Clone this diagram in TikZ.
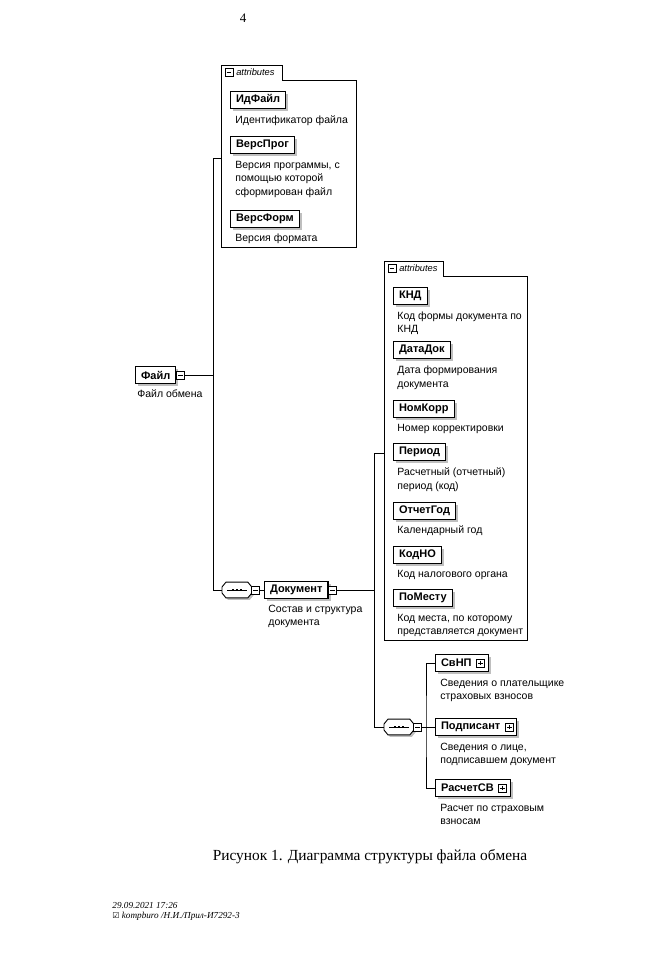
\documentclass[tikz,border=0pt]{standalone}
\usepackage{fontspec}
\setmainfont{Liberation Serif}
\setsansfont{Liberation Sans}
\newfontfamily\symfont{DejaVu Sans}
\usetikzlibrary{positioning,shadows,calc}

\tikzset{
  elem/.style={draw, line width=1.1pt, fill=white, anchor=west, minimum height=17pt,
    inner xsep=5.5pt, inner ysep=1.5pt, font=\sffamily\bfseries\fontsize{11}{12}\selectfont,
    drop shadow={shadow xshift=2.5pt, shadow yshift=-2.5pt, fill=black!50}},
  desc/.style={anchor=north west, align=left, inner sep=0pt,
    font=\sffamily\fontsize{10.5}{13.5}\selectfont},
  btn/.style={draw, line width=0.8pt, fill=white, minimum size=8pt, inner sep=0pt},
  minusbtn/.style={btn, path picture={
    \draw ([xshift=1.6pt]path picture bounding box.west) -- ([xshift=-1.6pt]path picture bounding box.east);}},
  plusbtn/.style={btn, path picture={
    \draw ([xshift=1.6pt]path picture bounding box.west) -- ([xshift=-1.6pt]path picture bounding box.east);
    \draw ([yshift=-1.6pt]path picture bounding box.north) -- ([yshift=1.6pt]path picture bounding box.south);}},
  seqsym/.style={anchor=west, minimum width=29pt, minimum height=15pt, inner sep=0pt,
    append after command={\pgfextra{
      \draw[line width=0.9pt, fill=white, drop shadow={shadow xshift=2pt, shadow yshift=-2pt, fill=black!50}]
        ([yshift=3pt]\tikzlastnode.west) -- ([xshift=4pt]\tikzlastnode.north west)
        -- ([xshift=-4pt]\tikzlastnode.north east) -- ([yshift=3pt]\tikzlastnode.east)
        -- ([yshift=-3pt]\tikzlastnode.east) -- ([xshift=-4pt]\tikzlastnode.south east)
        -- ([xshift=4pt]\tikzlastnode.south west) -- ([yshift=-3pt]\tikzlastnode.west) -- cycle;
      \draw ([xshift=5pt]\tikzlastnode.west) -- ([xshift=-5pt]\tikzlastnode.east);
      \foreach \d in {-4,0,4}
        \fill ([xshift=\d pt]\tikzlastnode.center) +(-1.3pt,-1.3pt) rectangle +(1.3pt,1.3pt);}}},
  tablbl/.style={inner sep=0pt, font=\sffamily\itshape\fontsize{9.3}{10}\selectfont},
}

\begin{document}
\begin{tikzpicture}[x=1pt, y=-1pt, line width=0.8pt]
  \useasboundingbox (0,0) rectangle (668,960);

  % page number
  \node (pagenum) at (243,18) {\fontsize{13}{14}\selectfont 4};

  % attributes of Файл
  \draw (221,247) -- (221,65) -- (282,65) -- (282,80) -- (356,80) -- (356,247) -- cycle;
  \node (attr1btn) [minusbtn] at (229,72.5) {};
  \node (attr1lbl) [tablbl, right=2.5pt of attr1btn] {attributes};
  \node (idf) [elem] at (230,100) {ИдФайл};
  \node (idfd) [desc, below right=6.5pt and 5pt of idf.south west] {Идентификатор файла};
  \node (versprog) [elem] at (230,145) {ВерсПрог};
  \node (versprogd) [desc, below right=6.5pt and 5pt of versprog.south west] {Версия программы, с\\помощью которой\\сформирован файл};
  \node (versform) [elem] at (230,219) {ВерсФорм};
  \node (versformd) [desc, below right=5.5pt and 5pt of versform.south west] {Версия формата};
  \coordinate (attr1w) at (221,158);

  % root
  \node (file) [elem] at (135,375) {Файл};
  \node (filebtn) [minusbtn, anchor=west] at ([xshift=-0.5pt]file.east) {};
  \node (filed) [desc, below right=5.5pt and 2pt of file.south west] {Файл обмена};
  \coordinate (j1top) at (213,158);
  \coordinate (j1bot) at (213,590);

  % Документ
  \node (seq1) [seqsym] at (222,590) {};
  \node (seq1btn) [minusbtn, anchor=west] at ([xshift=-0.5pt]seq1.east) {};
  \node (doc) [elem] at (264,590) {Документ};
  \node (docbtn) [minusbtn, anchor=west] at ([xshift=-0.5pt]doc.east) {};
  \node (docd) [desc, below right=5.5pt and 4pt of doc.south west] {Состав и структура\\документа};
  \coordinate (j2top) at (374,453);
  \coordinate (j2bot) at (374,727);

  % attributes of Документ
  \draw (384,640) -- (384,261) -- (443,261) -- (443,276) -- (527,276) -- (527,640) -- cycle;
  \node (attr2btn) [minusbtn] at (392,268.5) {};
  \node (attr2lbl) [tablbl, right=2.5pt of attr2btn] {attributes};
  \coordinate (attr2w) at (384,453);
  \node (knd) [elem] at (393,296) {КНД};
  \node (kndd) [desc, below right=6pt and 4pt of knd.south west] {Код формы документа по\\КНД};
  \node (datadok) [elem] at (393,350) {ДатаДок};
  \node (datadokd) [desc, below right=6.5pt and 4pt of datadok.south west] {Дата формирования\\документа};
  \node (nomkorr) [elem] at (393,409) {НомКорр};
  \node (nomkorrd) [desc, below right=5.5pt and 4pt of nomkorr.south west] {Номер корректировки};
  \node (period) [elem] at (393,452) {Период};
  \node (periodd) [desc, below right=6.5pt and 4pt of period.south west] {Расчетный (отчетный)\\период (код)};
  \node (otchgod) [elem] at (393,511) {ОтчетГод};
  \node (otchgodd) [desc, below right=5.5pt and 4pt of otchgod.south west] {Календарный год};
  \node (kodno) [elem] at (393,555) {КодНО};
  \node (kodnod) [desc, below right=5.5pt and 4pt of kodno.south west] {Код налогового органа};
  \node (pomestu) [elem] at (393,598) {ПоМесту};
  \node (pomestud) [desc, below right=6.5pt and 4pt of pomestu.south west] {Код места, по которому\\представляется документ};

  % sequence of Документ
  \node (seq2) [seqsym] at (384,727) {};
  \node (seq2btn) [minusbtn, anchor=west] at ([xshift=-0.5pt]seq2.east) {};
  \coordinate (j3) at (426,727);
  \node (svnp) [elem] at (435,663) {СвНП\kern11pt};
  \node (svnpbtn) [plusbtn] at ([xshift=-8pt]svnp.east) {};
  \node (svnpd) [desc, below right=6.5pt and 5pt of svnp.south west] {Сведения о плательщике\\страховых взносов};
  \node (podp) [elem] at (435,727) {Подписант\kern11pt};
  \node (podpbtn) [plusbtn] at ([xshift=-8pt]podp.east) {};
  \node (podpd) [desc, below right=6.5pt and 5pt of podp.south west] {Сведения о лице,\\подписавшем документ};
  \node (rascsv) [elem] at (435,788) {РасчетСВ\kern11pt};
  \node (rascsvbtn) [plusbtn] at ([xshift=-8pt]rascsv.east) {};
  \node (rascsvd) [desc, below right=6.5pt and 5pt of rascsv.south west] {Расчет по страховым\\взносам};

  % connectors
  \draw (filebtn.east) -- (filebtn.east -| j1top);
  \draw (attr1w) -- (j1top) -- (j1bot) -- (seq1.west);
  \draw (seq1btn.east) -- (doc.west);
  \draw (docbtn.east) -- (docbtn.east -| j2top);
  \draw (attr2w) -- (j2top) -- (j2bot) -- (seq2.west);
  \draw (seq2btn.east) -- (j3);
  \draw (svnp.west) -| (j3) |- (rascsv.west);
  \draw (j3) -- (podp.west);

  % caption and stamp
  \node (caption) at (370,857) {\fontsize{15.4}{17}\selectfont Рисунок 1. Диаграмма структуры файла обмена};
  \node (stamp) [anchor=west, align=left, inner sep=0pt, font=\itshape\fontsize{9.2}{10}\selectfont] at (112,911)
    {29.09.2021 17:26\\{\symfont\fontsize{8}{10}\selectfont ☑} kompburo /Н.И./Прил-И7292-3};
\end{tikzpicture}
\end{document}
